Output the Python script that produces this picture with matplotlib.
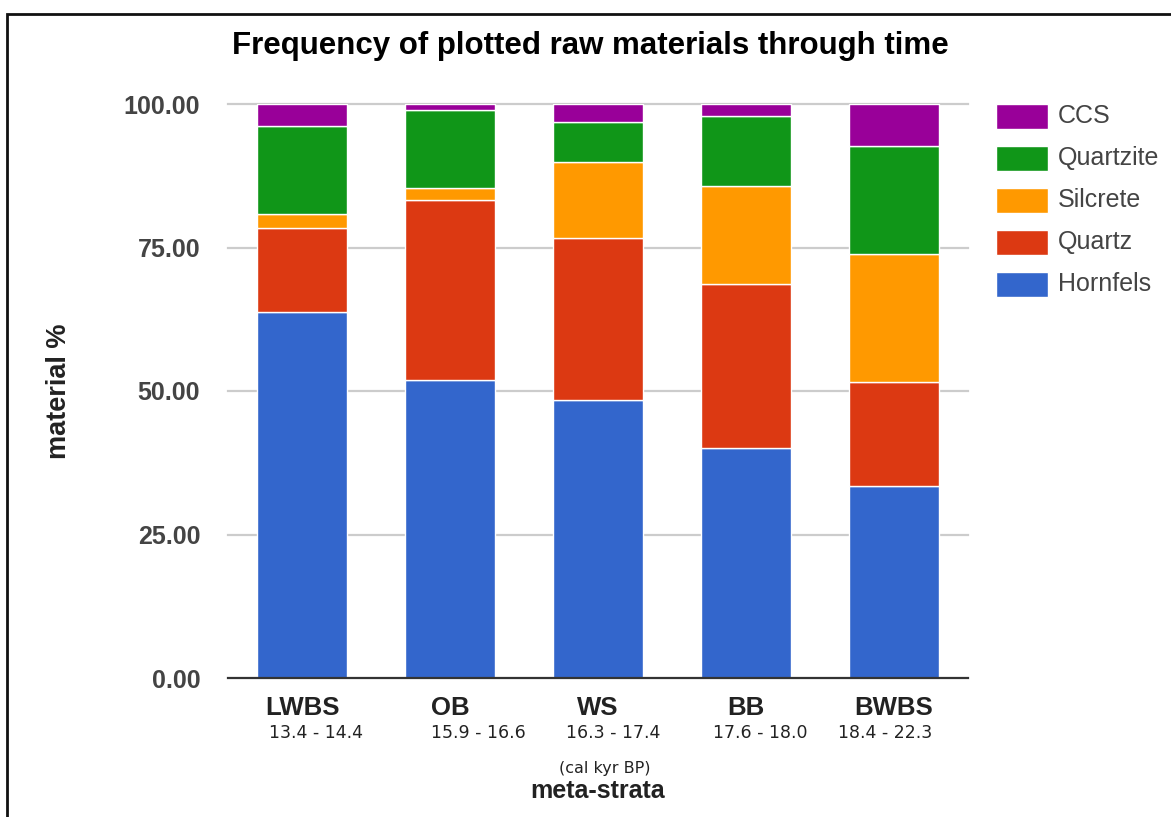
import matplotlib
matplotlib.use("Agg")
import matplotlib.pyplot as plt
from matplotlib.patches import Rectangle
from matplotlib.transforms import blended_transform_factory
import numpy as np

# ---- data ----
strata = ["LWBS", "OB", "WS", "BB", "BWBS"]
date_ranges = ["13.4 - 14.4", "15.9 - 16.6", "16.3 - 17.4", "17.6 - 18.0", "18.4 - 22.3"]
materials = ["Hornfels", "Quartz", "Silcrete", "Quartzite", "CCS"]
hornfels = [63.7, 51.9, 48.4, 40.1, 33.5]
quartz = [14.7, 31.4, 28.3, 28.6, 18.0]
silcrete = [2.5, 2.1, 13.2, 17.0, 22.3]
quartzite = [15.3, 13.6, 6.9, 12.2, 18.9]
ccs = [3.8, 1.0, 3.2, 2.1, 7.3]
y_ticks = [0, 25, 50, 75, 100]

series = [hornfels, quartz, silcrete, quartzite, ccs]
colors = ["#3366cc", "#dc3912", "#ff9900", "#109618", "#990099"]

W, H = 1171, 817
plt.rcParams['font.family'] = ['Liberation Sans', 'DejaVu Sans']
fig = plt.figure(figsize=(W / 100, H / 100), dpi=100)
fig.patch.set_facecolor("white")

def fx(px):
    return px / W

def fy(py):
    return 1 - py / H

ax = fig.add_axes([fx(228), fy(678), fx(968) - fx(228), fy(104) - fy(678)])
x = np.arange(len(strata))
bottom = np.zeros(len(strata))
for vals, col in zip(series, colors):
    ax.bar(x, vals, width=0.61, bottom=bottom, color=col, edgecolor="white",
           linewidth=1.0, zorder=3)
    bottom += np.array(vals)

ax.set_xlim(-0.5, len(strata) - 0.5)
ax.set_ylim(0, 100)
ax.set_yticks(y_ticks)
ax.set_yticklabels([f"{v:.2f}" for v in y_ticks], fontsize=18, fontweight="bold", color="#444444")
for v in y_ticks[1:]:
    ax.axhline(v, color="#cccccc", linewidth=1.6, zorder=1, clip_on=False)
ax.axhline(0, color="#333333", linewidth=1.6, zorder=4, clip_on=False)
ax.tick_params(axis="y", length=0, pad=20)
ax.set_xticks(x)
ax.set_xticklabels(strata, fontsize=18.5, fontweight="bold", color="#222222")
ax.tick_params(axis="x", length=0, pad=13)
for s in ax.spines.values():
    s.set_visible(False)

# date range sub-labels
date_offsets = [0.095, 0.19, 0.10, 0.095, -0.06]
trans = blended_transform_factory(ax.transData, fig.transFigure)
for xi, lab, off in zip(x, date_ranges, date_offsets):
    ax.text(xi + off, fy(733), lab, transform=trans, ha="center", va="center",
            fontsize=12.5, family="DejaVu Sans", color="#222222")

fig.text(fx(605), fy(769), "(cal kyr BP)", ha="center", va="center", fontsize=11.5,
         family="DejaVu Sans", color="#222222")
fig.text(fx(598), fy(791), "meta-strata", ha="center", va="center", fontsize=18,
         fontweight="bold", color="#222222")

fig.text(fx(59), fy(391), "material %", ha="center", va="center", rotation=90,
         fontsize=19.5, fontweight="bold", color="#222222")

fig.text(fx(590), fy(46), "Frequency of plotted raw materials through time", ha="center",
         va="center", fontsize=22.5, fontweight="bold", color="#000000")

# legend (top: CCS)
for i, (name, col) in enumerate(zip(materials[::-1], colors[::-1])):
    yc = 116 + 42 * i
    fig.patches.append(Rectangle((fx(996), fy(yc + 12.5)), fx(52), 25 / H, transform=fig.transFigure,
                                 facecolor=col, edgecolor="white", linewidth=1))
    fig.text(fx(1058), fy(yc), name, ha="left", va="center", fontsize=18, color="#444444")

# outer frame
fig.patches.append(Rectangle((fx(7), -0.1), 1.2, fy(13.5) + 0.1, transform=fig.transFigure,
                             fill=False, edgecolor="#111111", linewidth=2))

fig.savefig("out.png", dpi=100)
